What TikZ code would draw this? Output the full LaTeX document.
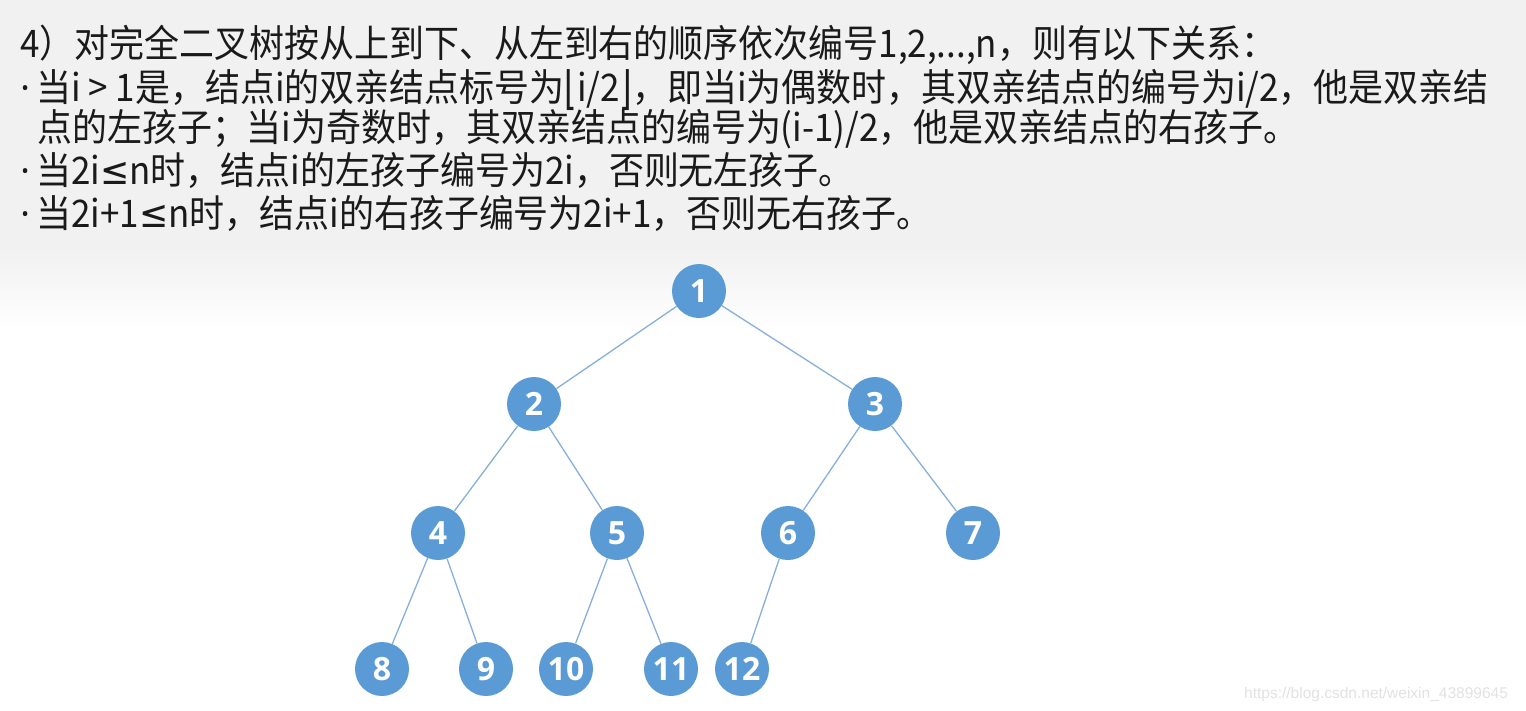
\documentclass[tikz,border=0pt]{standalone}
\usepackage{fontspec}
\setmainfont[FakeStretch=0.92]{Noto Sans CJK SC}
\newfontfamily\symf[FakeStretch=0.92]{DejaVu Sans}
\newfontfamily\brf[FakeStretch=0.7]{DejaVu Sans}
\newfontfamily\numf{Open Sans}
\newfontfamily\wmf{Liberation Sans}
\definecolor{bgtop}{HTML}{F1F1F1}
\definecolor{nodeblue}{HTML}{5B9BD5}
\definecolor{edgeblue}{HTML}{86B0DB}
\definecolor{txt}{HTML}{1A1A1A}
\definecolor{wm}{HTML}{E2E2E2}
\newcommand{\bul}{{\numf·}\hspace{6pt}}
\newcommand{\flbr}[1]{{\brf\fontsize{46}{46}\selectfont\raisebox{-3pt}{#1}}}
\tikzset{
  tnode/.style={circle, fill=nodeblue, minimum size=54pt, inner sep=0pt,
    text=white, font=\numf\fontsize{32}{32}\selectfont\bfseries},
  tedge/.style={draw=edgeblue, line width=1.3pt},
  line/.style={anchor=base west, inner sep=0pt, text=txt,
    font=\fontsize{38}{42}\selectfont},
}
\begin{document}
\begin{tikzpicture}[x=1pt,y=-1pt]
\useasboundingbox (0,0) rectangle (1526,710);
\fill[bgtop] (0,0) rectangle (1526,250);
\shade[top color=bgtop, bottom color=white] (0,249) rectangle (1526,330);
\fill[white] (0,330) rectangle (1526,710);

\node[line] (l1) at (20,57) {4）对完全二叉树按从上到下、从左到右的顺序依次编号1,2,...,n，则有以下关系：};
\node[line] (l2) at (20,101) {\bul 当i > 1是，结点i的双亲结点标号为\flbr{⌊}i/2\flbr{⌋}，即当i为偶数时，其双亲结点的编号为i/2，他是双亲结};
\node[line] (l3) at (37,141) {点的左孩子；当i为奇数时，其双亲结点的编号为(i-1)/2，他是双亲结点的右孩子。};
\node[line] (l4) at (20,184) {\bul 当2i{\symf ≤}n时，结点i的左孩子编号为2i，否则无左孩子。};
\node[line] (l5) at (20,227) {\bul 当2i+1{\symf ≤}n时，结点i的右孩子编号为2i+1，否则无右孩子。};

\node[tnode] (n1) at (699,291) {1};
\node[tnode] (n2) at (534,404) {2};
\node[tnode] (n3) at (875,404) {3};
\node[tnode] (n4) at (438,533) {4};
\node[tnode] (n5) at (617,533) {5};
\node[tnode] (n6) at (788,533) {6};
\node[tnode] (n7) at (973,533) {7};
\node[tnode] (n8) at (382,669) {8};
\node[tnode] (n9) at (486,669) {9};
\node[tnode] (n10) at (566,669) {10};
\node[tnode] (n11) at (671,669) {11};
\node[tnode] (n12) at (742,669) {12};

\draw[tedge] (n1) -- (n2);
\draw[tedge] (n1) -- (n3);
\draw[tedge] (n2) -- (n4);
\draw[tedge] (n2) -- (n5);
\draw[tedge] (n3) -- (n6);
\draw[tedge] (n3) -- (n7);
\draw[tedge] (n4) -- (n8);
\draw[tedge] (n4) -- (n9);
\draw[tedge] (n5) -- (n10);
\draw[tedge] (n5) -- (n11);
\draw[tedge] (n6) -- (n12);

\node[anchor=base west, inner sep=0pt, text=wm, font=\wmf\fontsize{15.5}{16}\selectfont] (wmk) at (1244,698) {https://blog.csdn.net/weixin\_43899645};
\end{tikzpicture}
\end{document}
